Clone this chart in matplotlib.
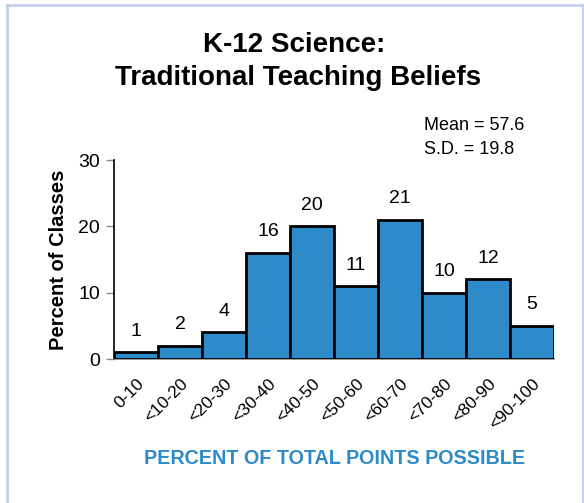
import matplotlib
matplotlib.use("Agg")
import matplotlib.pyplot as plt
from matplotlib.lines import Line2D
import numpy as np

categories = ["0-10", "<10-20", "<20-30", "<30-40", "<40-50", "<50-60",
              "<60-70", "<70-80", "<80-90", "<90-100"]
values = [1, 2, 4, 16, 20, 11, 21, 10, 12, 5]
yticks = [0, 10, 20, 30]
title_lines = ["K-12 Science:", "Traditional Teaching Beliefs"]
stats_lines = ["Mean = 57.6", "S.D. = 19.8"]

W, H = 584, 503
fig = plt.figure(figsize=(W/100, H/100), dpi=100)
fig.patch.set_facecolor("white")

FONT = ["Liberation Sans", "DejaVu Sans"]

# border
bc = "#c5d0ec"
fig.add_artist(Line2D([7/W, 7/W], [0, 1 - 5/H], color=bc, lw=2.0, transform=fig.transFigure))
fig.add_artist(Line2D([7/W, 1], [1 - 5/H, 1 - 5/H], color=bc, lw=2.0, transform=fig.transFigure))
fig.add_artist(Line2D([582.5/W, 582.5/W], [0, 1 - 5/H], color=bc, lw=1.5, transform=fig.transFigure))

left, right = 114/W, 554/W
bottom, top = 1 - 359/H, 1 - 160/H
ax = fig.add_axes([left, bottom, right - left, top - bottom])

x = np.arange(len(categories))
color = "#2e8bc9"
ax.bar(x, values, width=1.0, color=color, edgecolor="black", linewidth=2.0, zorder=3)
ax.set_xlim(-0.5, len(categories) - 0.5)
ax.set_ylim(0, 30)
ax.set_yticks(yticks)
ax.set_yticklabels([str(t) for t in yticks], fontsize=14, family=FONT)
ax.tick_params(axis="y", length=6, width=1, color="#888888", pad=4)
ax.set_xticks(x)
ax.tick_params(axis="x", which="major", length=0, pad=12)
ax.set_xticklabels(categories, rotation=45, ha="right", va="top",
                   rotation_mode="anchor", fontsize=12.5, family=FONT)

for s in ["top", "right"]:
    ax.spines[s].set_visible(False)
ax.spines["left"].set_color("black")
ax.spines["left"].set_linewidth(1.2)
ax.spines["bottom"].set_color("#888888")
ax.spines["bottom"].set_linewidth(1.2)

for xi, v in zip(x, values):
    ax.annotate(str(v), (xi, v), xytext=(0, 9), textcoords="offset points",
                ha="center", va="bottom", fontsize=14, family=FONT)

ax.set_ylabel("Percent of Classes", fontsize=14.5, fontweight="bold", family=FONT)
ax.yaxis.set_label_coords(-0.105, 0.5)

fig.text(294/W, 1 - 45/H, title_lines[0], ha="center", va="center",
         fontsize=20, fontweight="bold", family=FONT)
fig.text(298/W, 1 - 78/H, title_lines[1], ha="center", va="center",
         fontsize=20, fontweight="bold", family=FONT)

fig.text(424/W, 1 - 125/H, stats_lines[0], ha="left", va="center", fontsize=13, family=FONT)
fig.text(424/W, 1 - 150/H, stats_lines[1], ha="left", va="center", fontsize=13, family=FONT)

fig.text(335/W, 1 - 459/H, "PERCENT OF TOTAL POINTS POSSIBLE", ha="center", va="center",
         fontsize=14.2, fontweight="bold", color=color, family=FONT)

fig.savefig("out.png", dpi=100, facecolor="white")
